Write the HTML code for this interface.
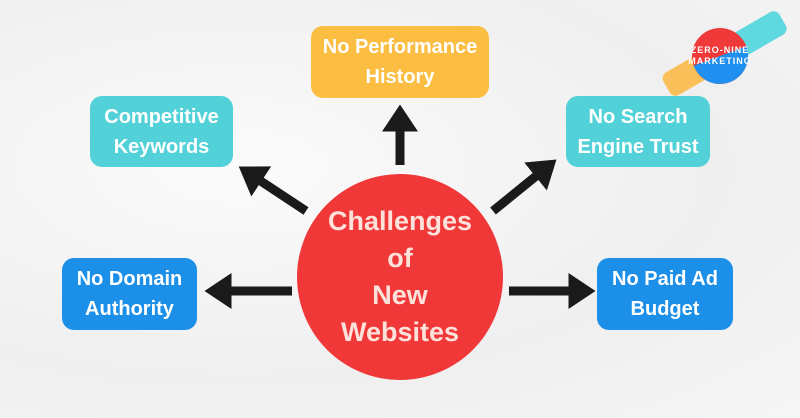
<!DOCTYPE html>
<html><head><style>
body{margin:0;width:800px;height:418px;overflow:hidden;position:relative;font-family:"Liberation Sans",sans-serif;
background:radial-gradient(ellipse at 30% 40%,#fbfbfb,#efeff0 60%,#f6f6f7);}
.b{position:absolute;border-radius:12px;color:#fff;font-weight:bold;font-size:20px;line-height:30px;display:flex;align-items:center;justify-content:center;text-align:center;}
.o{background:#fbbd42}.t{background:#52d2d8}.u{background:#1c8fe8}
.c{position:absolute;left:297px;top:174px;width:206px;height:206px;border-radius:50%;background:#f03838;color:#fde2dc;font-weight:bold;font-size:27px;line-height:37px;display:flex;align-items:center;justify-content:center;text-align:center}
</style></head><body>
<svg width="800" height="418" style="position:absolute;left:0;top:0">
<defs><marker id="a" markerWidth="4" markerHeight="4" refX="1.5" refY="2" orient="auto"><path d="M0,0L3,2L0,4z" fill="#1a1a1a"/></marker></defs>
<g stroke="#1a1a1a" stroke-width="9" marker-end="url(#a)">
<line x1="400" y1="165" x2="400" y2="118"/>
<line x1="306" y1="211" x2="250" y2="174"/>
<line x1="493" y1="211" x2="546" y2="168"/>
<line x1="292" y1="291" x2="218" y2="291"/>
<line x1="509" y1="291" x2="582" y2="291"/>
</g>
<g transform="translate(722,55) rotate(-30)"><rect x="-64" y="-13" width="58" height="26" rx="7" fill="#fbbf5a"/><rect x="6" y="-13" width="64" height="26" rx="7" fill="#5fd8e0"/></g>
<circle cx="720" cy="56" r="28" fill="#f03a3a"/>
<path d="M692,56a28,28 0 0 0 56,0z" fill="#1f8ff0" transform="rotate(-20 720 56)"/>
<text x="720" y="53" font-size="9" font-weight="bold" fill="#fff" text-anchor="middle" letter-spacing="1" font-family="Liberation Sans">ZERO-NINE</text>
<text x="720" y="64" font-size="9" font-weight="bold" fill="#fff" text-anchor="middle" letter-spacing="1" font-family="Liberation Sans">MARKETING</text>
</svg>
<div class="b o" style="left:311px;top:26px;width:178px;height:72px">No Performance<br>History</div>
<div class="b t" style="left:90px;top:96px;width:143px;height:71px">Competitive<br>Keywords</div>
<div class="b t" style="left:566px;top:96px;width:144px;height:71px">No Search<br>Engine Trust</div>
<div class="b u" style="left:62px;top:258px;width:135px;height:72px">No Domain<br>Authority</div>
<div class="b u" style="left:597px;top:258px;width:136px;height:72px">No Paid Ad<br>Budget</div>
<div class="c">Challenges<br>of<br>New<br>Websites</div>
</body></html>
